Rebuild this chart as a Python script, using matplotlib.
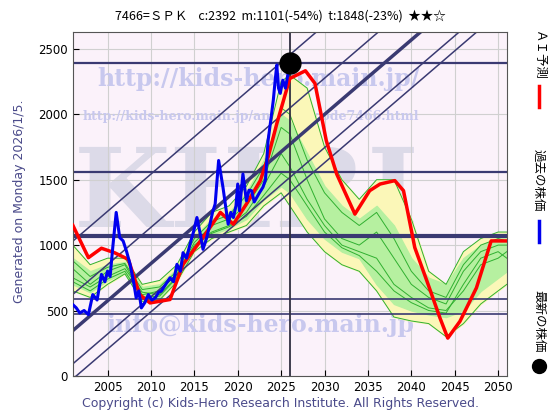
import matplotlib
matplotlib.use("Agg")
import matplotlib.pyplot as plt
import numpy as np

# ---- data ----
red_x = [2001,2002.8,2004.3,2005.8,2007.4,2008.7,2009.9,2012.2,2013.7,2016,2018,2019.5,2021,2022.6,2023.5,2024.5,2026,2027.8,2028.9,2030.2,2031.4,2033.5,2035.2,2036.4,2038.1,2039.1,2040.4,2041.8,2043.3,2044.2,2045.6,2047.5,2049.2,2051]
red_y = [1152,904,976,942,891,622,558,584,853,1058,1250,1160,1314,1493,1672,1928,2274,2333,2236,1800,1544,1237,1416,1467,1493,1416,981,725,443,289,417,673,1032,1032]

blue_x = [2001,2001.4,2001.8,2002.3,2002.8,2003.3,2003.8,2004.3,2004.7,2005,2005.3,2005.6,2006,2006.4,2006.8,2007.2,2007.6,2008,2008.3,2008.6,2008.9,2009.3,2009.7,2010.1,2010.5,2010.9,2011.2,2011.7,2012.2,2012.6,2013,2013.4,2013.7,2014.1,2014.5,2014.9,2015.3,2015.7,2016,2016.4,2016.8,2017.1,2017.4,2017.8,2018.3,2018.6,2018.9,2019.2,2019.5,2019.8,2020,2020.2,2020.6,2021,2021.3,2021.6,2021.9,2022.2,2022.5,2022.9,2023.2,2023.5,2023.8,2024.1,2024.3,2024.5,2024.7,2024.9,2025.2,2025.5,2025.8,2026]
blue_y = [545,520,481,500,468,622,580,776,720,801,760,980,1250,1058,1032,950,853,720,597,650,520,560,622,580,597,640,648,700,750,720,853,800,942,900,1006,1100,1211,1080,968,1050,1160,1250,1314,1647,1442,1300,1160,1250,1211,1300,1467,1263,1544,1339,1420,1416,1330,1365,1400,1442,1500,1800,1950,2108,2250,2377,2200,2160,2261,2200,2313,2392]

latest_x, latest_y = 2026, 2392

grid_x = [2001,2003,2005,2007,2009,2011,2013,2015,2017,2019,2021,2023,2025,2026,2028,2030,2032,2034,2036,2038,2040,2042,2044,2046,2048,2050,2051]
yel_hi = [1000,850,900,900,700,730,850,1100,1250,1300,1450,1700,2250,2300,2200,1750,1500,1350,1500,1500,1200,800,700,950,1050,1100,1100]
yel_lo = [650,600,700,780,570,580,720,950,1050,1100,1150,1300,1400,1300,1100,950,850,800,650,450,420,400,300,400,550,650,700]
grn_hi = [900,800,850,870,680,700,820,1060,1200,1250,1400,1650,2000,1950,1700,1450,1300,1200,1300,1150,900,750,700,900,1000,1050,1050]
grn_lo = [700,640,730,790,590,600,740,980,1080,1130,1200,1350,1450,1400,1200,1050,950,900,700,550,500,470,450,500,650,750,800]
ens1 = [820,700,800,850,620,650,780,1020,1150,1200,1300,1500,1900,1850,1500,1200,1050,1000,1100,900,700,600,550,800,950,1000,1000]
ens2 = [750,680,760,820,640,620,760,1000,1100,1150,1250,1450,1700,1600,1350,1150,1000,950,900,700,600,520,500,650,850,900,950]
ens3 = [880,760,830,860,660,680,800,1050,1180,1230,1380,1600,2050,2000,1650,1400,1250,1150,1250,1050,800,650,600,850,1000,1050,1030]
ens4 = [720,650,740,800,600,610,750,990,1090,1140,1220,1380,1550,1500,1300,1100,980,920,800,650,560,500,480,700,900,950,900]

hlines = [2392, 1556, 1069, 587, 471]
hline_w = [1.6, 1.6, 3.0, 1.2, 1.2]
diag_b = [1030, 623, 346, 92, -23]   # values at 2001
diag_w = [1.1, 1.1, 2.5, 1.1, 1.1]
slope = 57.0

xticks = list(range(2005, 2051, 5))
yticks = list(range(0, 2501, 500))

# ---- figure ----
fig = plt.figure(figsize=(5.6, 4.2), dpi=100)
ax = fig.add_axes([0.13, 0.105, 0.775, 0.819])
ax.set_facecolor('#fbf2fa')
ax.set_xlim(2001, 2051)
ax.set_ylim(0, 2630)
ax.set_xticks(xticks)
ax.set_yticks(yticks)
ax.grid(True, color='#d0d0d0', lw=0.8)
ax.set_axisbelow(True)
ax.tick_params(labelsize=8.5, colors='black', direction='in', length=4)
for s in ax.spines.values():
    s.set_color('#555555')

# watermarks
wm = '#c8c8ee'
for t in [
    ax.text(2021, 960, 'KHRI', fontsize=80, color='#dcdae8', ha='center', va='bottom',
            family='DejaVu Serif', fontweight='bold', zorder=0.5),
    ax.text(2022.4, 2270, 'http://kids-hero.main.jp/', fontsize=17, color=wm, ha='center', va='center',
            family='DejaVu Serif', fontweight='bold', zorder=0.6),
    ax.text(2021.5, 1985, 'http://kids-hero.main.jp/analysis/code7466.html', fontsize=9, color=wm,
            ha='center', va='center', family='DejaVu Serif', fontweight='bold', zorder=0.6),
    ax.text(2022.6, 390, 'info@kids-hero.main.jp', fontsize=17, color=wm, ha='center', va='center',
            family='DejaVu Serif', fontweight='bold', zorder=0.6)]:
    t.set_clip_on(True)

ax.fill_between(grid_x, yel_lo, yel_hi, color='#fbf7b8', zorder=1)
ax.fill_between(grid_x, grn_lo, grn_hi, color='#b6f0a0', zorder=1.1)
for e in (ens1, ens2, ens3, ens4, yel_hi, yel_lo):
    ax.plot(grid_x, e, color='#30b030', lw=0.7, zorder=1.2)

for y, w in zip(hlines, hline_w):
    ax.axhline(y, color='#3a3a72', lw=w, zorder=2)
xs = np.array([2001, 2051])
for b, w in zip(diag_b, diag_w):
    ax.plot(xs, b + slope * (xs - 2001), color='#3a3a72', lw=w, zorder=2)
ax.axvline(2026, color='#303040', lw=1.3, zorder=2)

ax.plot(red_x, red_y, color='#ff0000', lw=2.5, zorder=3)
ax.plot(blue_x, blue_y, color='#0000ee', lw=2.2, zorder=4)
ax.plot([latest_x], [latest_y], 'o', color='black', ms=15, zorder=5, clip_on=False)

fig.text(0.5, 0.962, '7466=ＳＰＫ    c:2392  m:1101(-54%)  t:1848(-23%)  ★★☆',
         ha='center', va='center', fontsize=9, family=['Noto Sans CJK JP', 'DejaVu Sans'])
fig.text(0.035, 0.52, 'Generated on Monday 2026/1/5.', rotation=90, ha='center', va='center',
         fontsize=9, color='#4a4a8a')
fig.text(0.5, 0.04, 'Copyright (c) Kids-Hero Research Institute. All Rights Reserved.',
         ha='center', va='center', fontsize=9, color='#4a4a8a')

cjk = ['Noto Sans CJK JP', 'DejaVu Sans']
fig.text(0.962, 0.87, 'ＡＩ予測', rotation=270, ha='center', va='center', fontsize=9, family=cjk)
fig.add_artist(plt.Line2D([0.962, 0.962], [0.745, 0.795], color='#ff0000', lw=2.5))
fig.text(0.962, 0.57, '過去の株価', rotation=270, ha='center', va='center', fontsize=9, family=cjk)
fig.add_artist(plt.Line2D([0.962, 0.962], [0.425, 0.475], color='#0000ee', lw=2.5))
fig.text(0.962, 0.235, '最新の株価', rotation=270, ha='center', va='center', fontsize=9, family=cjk)
fig.add_artist(plt.Line2D([0.962], [0.128], marker='o', color='black', ms=10))

fig.savefig('out.png', dpi=100)
